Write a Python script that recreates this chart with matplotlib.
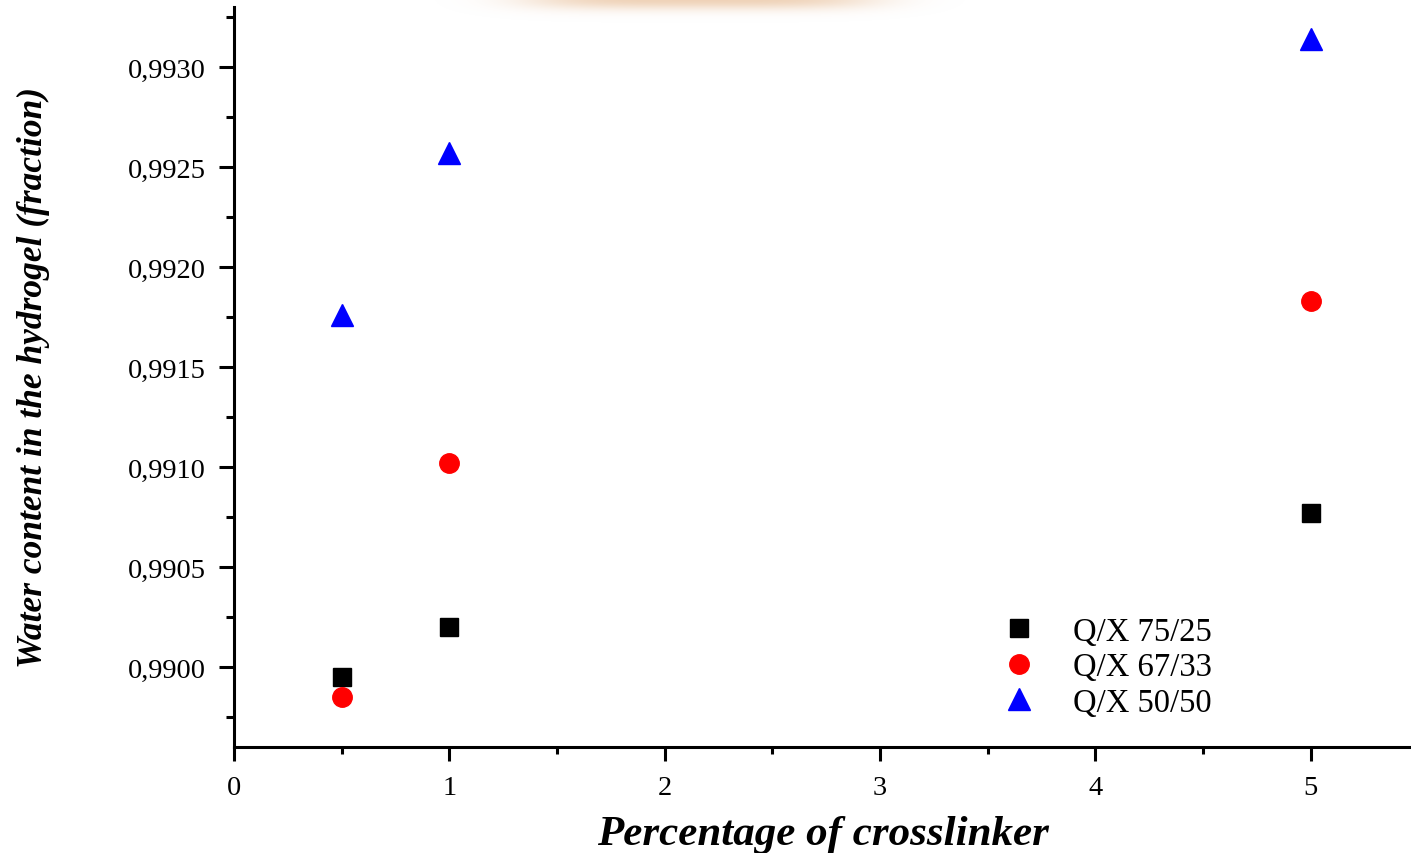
import numpy as np
import matplotlib
matplotlib.use("Agg")
from matplotlib import pyplot as plt
from matplotlib.ticker import MultipleLocator, FuncFormatter

# data
crosslinker = [0.5, 1, 5]
qx_75_25 = [0.98995, 0.99020, 0.99077]
qx_67_33 = [0.98985, 0.99102, 0.99183]
qx_50_50 = [0.99176, 0.99257, 0.99314]
series_labels = ["Q/X 75/25", "Q/X 67/33", "Q/X 50/50"]

plt.rcParams['font.family'] = ['Liberation Serif', 'DejaVu Serif']

fig = plt.figure(figsize=(14.11, 8.54), dpi=100)
ax = fig.add_axes([234/1411, 1 - 748/854, 1 - 234/1411, (748 - 8)/854])

ax.plot(crosslinker, qx_75_25, ls="none", marker="s", ms=12.5, color="black", label=series_labels[0])
ax.plot(crosslinker, qx_67_33, ls="none", marker="o", ms=14, color="red", label=series_labels[1])
ax.plot(crosslinker, qx_50_50, ls="none", marker="^", ms=16, color="blue", label=series_labels[2])

ax.set_xlim(0, 5.465)
ax.set_ylim(0.98960, 0.99330)

ax.xaxis.set_major_locator(MultipleLocator(1))
ax.xaxis.set_minor_locator(MultipleLocator(0.5))
ax.yaxis.set_major_locator(MultipleLocator(0.0005))
ax.yaxis.set_minor_locator(MultipleLocator(0.00025))
ax.yaxis.set_major_formatter(FuncFormatter(lambda v, p: ("%.4f" % v).replace(".", ",")))
ax.xaxis.set_major_formatter(FuncFormatter(lambda v, p: "%d" % v))

for s in ["top", "right"]:
    ax.spines[s].set_visible(False)
for s in ["left", "bottom"]:
    ax.spines[s].set_linewidth(2.2)

ax.tick_params(axis="both", which="both", direction="out", width=2.2, labelsize=20.5)
ax.tick_params(axis="y", which="major", length=11, pad=9)
ax.tick_params(axis="y", which="minor", length=6)
ax.tick_params(axis="x", which="major", length=10, pad=10)
ax.tick_params(axis="x", which="minor", length=5)

ax.set_xlabel("Percentage of crosslinker", fontsize=31, fontweight="bold", fontstyle="italic", labelpad=11)
ax.set_ylabel("Water content in the hydrogel (fraction)", fontsize=25.5, fontweight="bold", fontstyle="italic", labelpad=56)

ax.legend(loc="upper left", bbox_to_anchor=((978 - 234) / 1177, 1 - (601 - 8) / 740),
          frameon=False, fontsize=23.5, handlelength=1.5, handletextpad=0.9,
          labelspacing=0.15, borderpad=0)

# faint orange glow at the top edge
glow_ax = fig.add_axes([380/1411, 1 - 30/854, 640/1411, 30/854])
gx = np.linspace(-1, 1, 300)
gy = np.linspace(0, 1, 40)
GX, GY = np.meshgrid(gx, gy)
alpha = np.exp(-(GX / 0.55) ** 4) * np.exp(-(GY / 0.35) ** 2) * 0.7
rgba = np.zeros(GX.shape + (4,))
rgba[..., 0] = 0.91
rgba[..., 1] = 0.75
rgba[..., 2] = 0.60
rgba[..., 3] = alpha
glow_ax.imshow(rgba, aspect="auto", origin="upper", interpolation="bilinear")
glow_ax.axis("off")

fig.savefig("out.png", dpi=100)
